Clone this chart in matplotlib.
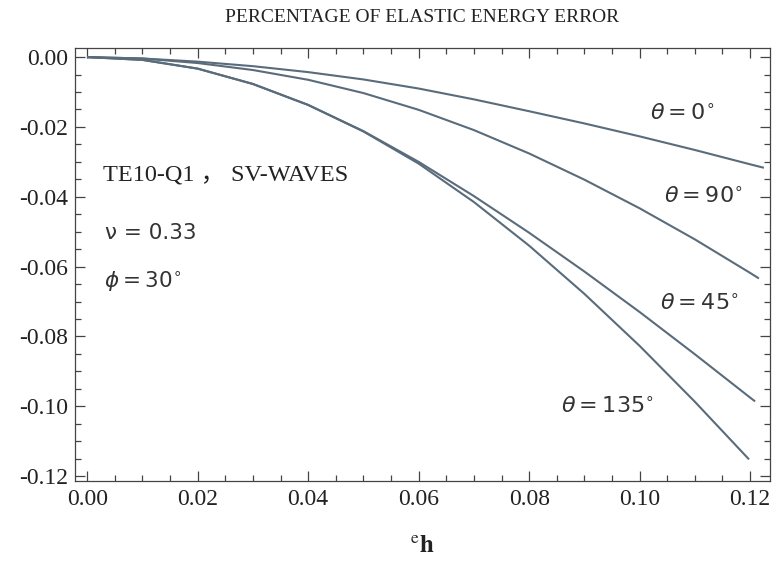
import matplotlib
matplotlib.use("Agg")
import matplotlib.pyplot as plt
from matplotlib.ticker import MultipleLocator, FormatStrFormatter

plt.rcParams['axes.unicode_minus'] = False

# e_h sample points
eh = [0.0, 0.01, 0.02, 0.03, 0.04, 0.05, 0.06, 0.07, 0.08, 0.09, 0.10, 0.11, 0.12]

# each curve stops at a slightly different e_h in the original
end_eh = {'0': 0.1225, '90': 0.1216, '45': 0.1209, '135': 0.1198}

err_theta0 = [0.0, -0.0004, -0.0013, -0.0026, -0.0043, -0.0064, -0.0090,
              -0.0121, -0.0155, -0.0190, -0.0227, -0.0266, -0.0307]
err_theta90 = [0.0, -0.0004, -0.0017, -0.0037, -0.0065, -0.0103, -0.0151,
               -0.0209, -0.0276, -0.0351, -0.0433, -0.0522, -0.0618]
err_theta45 = [0.0, -0.0008, -0.0033, -0.0077, -0.0137, -0.0212, -0.0300,
               -0.0398, -0.0503, -0.0614, -0.0730, -0.0851, -0.0975]
err_theta135 = [0.0, -0.0008, -0.0033, -0.0077, -0.0137, -0.0213, -0.0305,
                -0.0415, -0.0540, -0.0678, -0.0827, -0.0987]
end_err = {'0': -0.0317, '90': -0.0634, '45': -0.0986, '135': -0.1152}

line_color = '#5a6c7b'
text_color = '#222222'

fig = plt.figure(figsize=(7.72, 5.71), dpi=100)
ax = fig.add_axes([0.0972, 0.1576, 0.9002, 0.7583])

for key, vals in [('0', err_theta0), ('90', err_theta90),
                  ('45', err_theta45), ('135', err_theta135)]:
    xs = eh[:len(vals)] + [end_eh[key]]
    ys = vals + [end_err[key]]
    ax.plot(xs, ys, color=line_color, lw=1.5, solid_capstyle='butt',
            solid_joinstyle='round')

ax.set_xlim(-0.0022, 0.1236)
ax.set_ylim(-0.1214, 0.0026)

ax.xaxis.set_major_locator(MultipleLocator(0.02))
ax.xaxis.set_minor_locator(MultipleLocator(0.005))
ax.yaxis.set_major_locator(MultipleLocator(0.02))
ax.yaxis.set_minor_locator(MultipleLocator(0.005))
ax.xaxis.set_major_formatter(FormatStrFormatter('%.2f'))
ax.yaxis.set_major_formatter(FormatStrFormatter('%.2f'))

ax.tick_params(which='both', direction='in', top=True, right=True,
               color='#444444', width=0.9)
ax.tick_params(which='major', length=7)
ax.tick_params(axis='x', which='major', pad=6)
ax.tick_params(axis='y', which='major', pad=5)
ax.tick_params(which='minor', length=4)
for lab in ax.get_xticklabels() + ax.get_yticklabels():
    lab.set_fontfamily('Liberation Serif')
    lab.set_fontsize(17)
    lab.set_color(text_color)
for sp in ax.spines.values():
    sp.set_color('#444444')
    sp.set_linewidth(0.9)

fig.text(0.547, 1 - 17 / 571, 'PERCENTAGE OF ELASTIC ENERGY ERROR',
         ha='center', va='center', fontsize=14, family='Liberation Serif',
         color=text_color)

fig.text(0.547, 1 - 546 / 571, r'${}^{\mathrm{e}}\mathbf{h}$', ha='center',
         va='center', fontsize=18, math_fontfamily='stix', color=text_color)

# annotations
ax.text(0.0029, -0.0338, 'TE10-Q1 ， SV-WAVES', fontsize=17.5,
        family=['Liberation Serif', 'Noto Sans CJK SC'], va='center',
        color=text_color)
ax.text(0.0032, -0.0505, 'ν = 0.33', fontsize=15.5, family='DejaVu Sans',
        va='center', color='#333333')
ax.text(0.0030, -0.0645, r'$\phi = 30^{\circ}$', fontsize=15.5, va='center',
        color='#333333')

ax.text(0.1018, -0.0160, r'$\theta = 0^{\circ}$', fontsize=16, va='center',
        color='#333333')
ax.text(0.1045, -0.0400, r'$\theta = 90^{\circ}$', fontsize=16, va='center',
        color='#333333')
ax.text(0.1036, -0.0705, r'$\theta = 45^{\circ}$', fontsize=16, va='center',
        color='#333333')
ax.text(0.0858, -0.1000, r'$\theta = 135^{\circ}$', fontsize=16, va='center',
        color='#333333')

fig.savefig('out.png', dpi=100, facecolor='white')
